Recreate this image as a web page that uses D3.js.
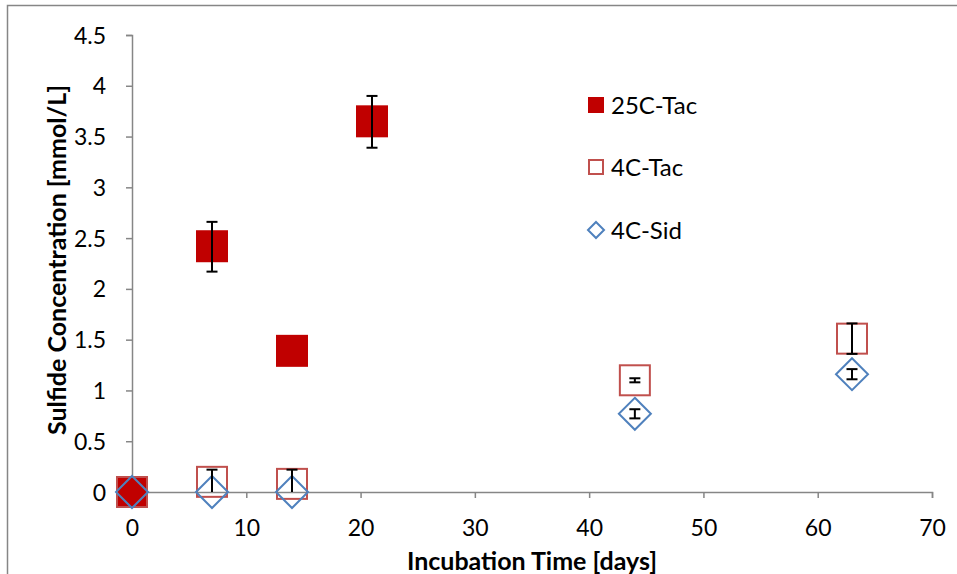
<!DOCTYPE html>
<html>
<head>
<meta charset="utf-8">
<script src="https://cdn.jsdelivr.net/npm/d3@7"></script>
<style>
  body { margin: 0; background: #fff; }
  text { font-family: Lato, "Open Sans", sans-serif; }
</style>
</head>
<body>
<div id="chart"></div>
<script>
// data
var days25 = [0, 7, 14, 21];
var vals25 = [0, 2.42, 1.39, 3.65];
var errUp25 = [0, 0.24, 0, 0.25];
var errDn25 = [0, 0.25, 0, 0.26];

var days4t = [0, 7, 14, 44, 63];
var vals4t = [0, 0.10, 0.08, 1.10, 1.51];
var errUp4t = [0, 0.12, 0.14, 0.02, 0.15];
var errDn4t = [0, 0.10, 0.08, 0.02, 0.15];

var days4s = [0, 7, 14, 44, 63];
var vals4s = [0, 0, 0, 0.77, 1.16];
var errUp4s = [0, 0, 0, 0.045, 0.05];
var errDn4s = [0, 0, 0, 0.045, 0.05];

var xTicks = [0, 10, 20, 30, 40, 50, 60, 70];
var yTicks = [0, 0.5, 1, 1.5, 2, 2.5, 3, 3.5, 4, 4.5];
var seriesNames = ["25C-Tac", "4C-Tac", "4C-Sid"];

var W = 957, H = 574;
var margin = {top: 35, right: 25, bottom: 82, left: 132},
    width = 932 - margin.left,
    height = 492 - margin.top;

var svg = d3.select("#chart")
  .append("svg")
    .attr("width", W)
    .attr("height", H);

// outer chart frame (runs off the right and bottom edge)
svg.append("rect")
  .attr("x", 7.5).attr("y", 5.5)
  .attr("width", W + 20).attr("height", H + 20)
  .attr("fill", "none")
  .attr("stroke", "#868686")
  .attr("stroke-width", 1.5);

var g = svg.append("g")
  .attr("transform", "translate(" + margin.left + "," + margin.top + ")");

var x = d3.scaleLinear().domain([0, 70]).range([0, width]);
var y = d3.scaleLinear().domain([0, 4.5]).range([height, 0]);

// X axis
var xAxis = g.append("g")
  .attr("transform", "translate(0," + height + ")")
  .call(d3.axisBottom(x).tickValues(xTicks).tickSize(6).tickPadding(22).tickFormat(d3.format("d")));
// Y axis
var yAxis = g.append("g")
  .call(d3.axisLeft(y).tickValues(yTicks).tickSize(6).tickPadding(20).tickFormat(function(d) { return d; }));

[xAxis, yAxis].forEach(function(a) {
  a.select(".domain").attr("stroke", "#868686").attr("stroke-width", 1.5);
  a.selectAll(".tick line").attr("stroke", "#868686").attr("stroke-width", 1.5);
  a.selectAll(".tick text")
    .attr("fill", "#000")
    .style("font-size", "23px")
    .style("font-family", "Lato, sans-serif");
});
yAxis.selectAll(".tick text").attr("dy", "0.35em");

// axis titles
g.append("text")
  .attr("x", width / 2)
  .attr("y", height + 78)
  .attr("text-anchor", "middle")
  .style("font-size", "25px")
  .style("font-weight", "bold")
  .text("Incubation Time [days]");

g.append("text")
  .attr("transform", "translate(" + (-66) + "," + 225 + ")rotate(-90)")
  .attr("text-anchor", "middle")
  .style("font-size", "25px")
  .style("font-weight", "bold")
  .text("Sulfide Concentration [mmol/L]");

var S = 32; // marker size
var cap = 11;

function pts(days, vals, up, dn) {
  return days.map(function(d, i) { return {d: d, v: vals[i], up: up[i], dn: dn[i]}; });
}
var p25 = pts(days25, vals25, errUp25, errDn25),
    p4t = pts(days4t, vals4t, errUp4t, errDn4t),
    p4s = pts(days4s, vals4s, errUp4s, errDn4s);

// 25C-Tac filled squares
g.selectAll(".sq25").data(p25).enter().append("rect")
  .attr("x", function(d) { return x(d.d) - S / 2; })
  .attr("y", function(d) { return y(d.v) - S / 2; })
  .attr("width", S).attr("height", S)
  .attr("fill", "#C00000");

// 4C-Tac hollow squares
g.selectAll(".sq4").data(p4t).enter().append("rect")
  .attr("x", function(d) { return x(d.d) - S / 2 + 1; })
  .attr("y", function(d) { return y(d.v) - S / 2 + 1; })
  .attr("width", S - 2).attr("height", S - 2)
  .attr("fill", "none")
  .attr("stroke", "#C0504D")
  .attr("stroke-width", 2);

// 4C-Sid hollow diamonds
var diamond = function(cx, cy, r) {
  return "M" + cx + "," + (cy - r) + "L" + (cx + r) + "," + cy + "L" + cx + "," + (cy + r) + "L" + (cx - r) + "," + cy + "Z";
};
g.selectAll(".dm").data(p4s).enter().append("path")
  .attr("d", function(d) { return diamond(x(d.d), y(d.v), S / 2); })
  .attr("fill", "none")
  .attr("stroke", "#4F81BD")
  .attr("stroke-width", 2);

// error bars
var allErr = p25.concat(p4t, p4s).filter(function(d) { return d.up > 0; });
var eb = g.selectAll(".eb").data(allErr).enter().append("g")
  .attr("stroke", "#000").attr("stroke-width", 2);
eb.append("line")
  .attr("x1", function(d) { return x(d.d); })
  .attr("x2", function(d) { return x(d.d); })
  .attr("y1", function(d) { return y(d.v + d.up); })
  .attr("y2", function(d) { return y(d.v - d.dn); });
eb.append("line")
  .attr("x1", function(d) { return x(d.d) - cap / 2; })
  .attr("x2", function(d) { return x(d.d) + cap / 2; })
  .attr("y1", function(d) { return y(d.v + d.up); })
  .attr("y2", function(d) { return y(d.v + d.up); });
// lower caps (none where the bar runs down to zero)
eb.filter(function(d) { return d.v - d.dn > 0; }).append("line")
  .attr("x1", function(d) { return x(d.d) - cap / 2; })
  .attr("x2", function(d) { return x(d.d) + cap / 2; })
  .attr("y1", function(d) { return y(d.v - d.dn); })
  .attr("y2", function(d) { return y(d.v - d.dn); });

// legend
var leg = svg.append("g").attr("transform", "translate(588,0)");
var rowsY = [105, 167, 230];
var L = 16;
var li = leg.selectAll(".li").data(seriesNames).enter().append("g")
  .attr("transform", function(d, i) { return "translate(0," + rowsY[i] + ")"; });
li.each(function(d, i) {
  var s = d3.select(this);
  if (i === 0) {
    s.append("rect").attr("x", 0).attr("y", -L / 2).attr("width", L).attr("height", L).attr("fill", "#C00000");
  } else if (i === 1) {
    s.append("rect").attr("x", 1).attr("y", -L / 2 + 1).attr("width", L - 2).attr("height", L - 2)
      .attr("fill", "none").attr("stroke", "#C0504D").attr("stroke-width", 2);
  } else {
    s.append("path").attr("d", diamond(L / 2, 0, L / 2)).attr("fill", "none")
      .attr("stroke", "#4F81BD").attr("stroke-width", 2);
  }
});
li.append("text")
  .attr("x", 23)
  .attr("y", 0)
  .attr("dy", "0.36em")
  .style("font-size", "24px")
  .text(function(d) { return d; });
</script>
</body>
</html>
